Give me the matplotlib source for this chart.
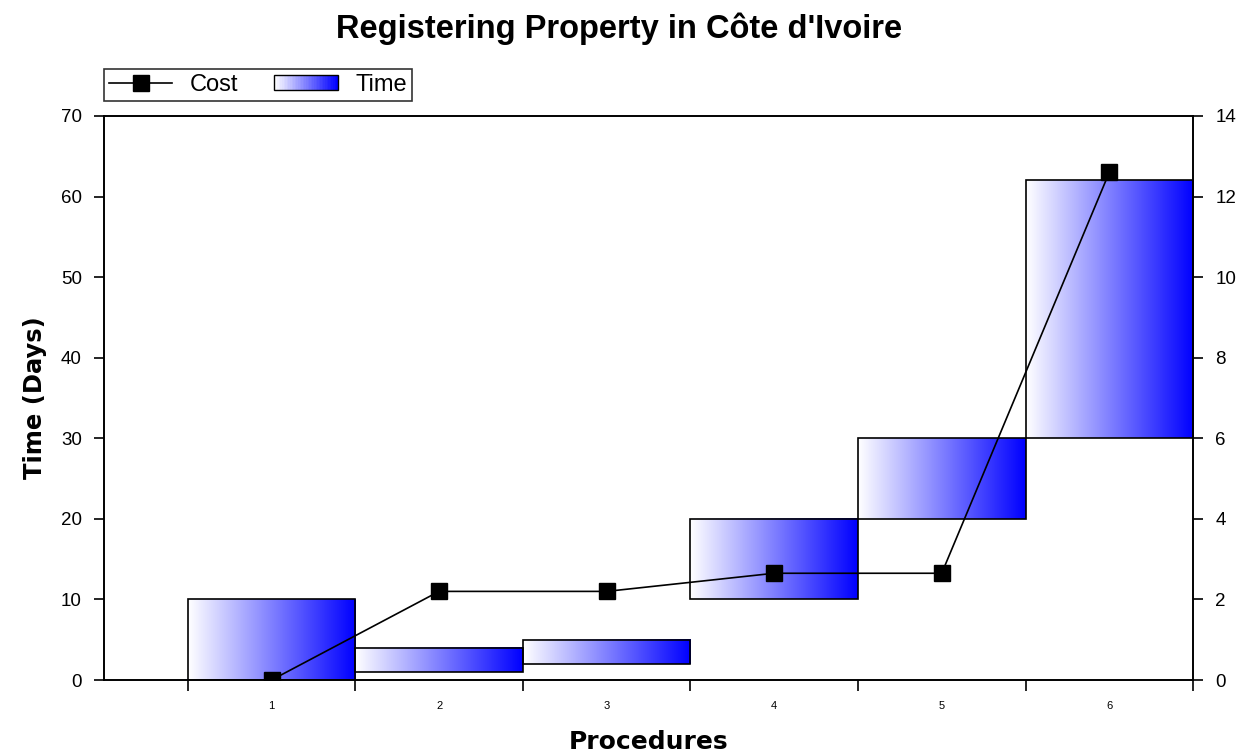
# -*- coding:utf-8 -*-

import numpy as np
import matplotlib
matplotlib.use("Agg")
import matplotlib.pyplot as plt
from matplotlib.colors import LinearSegmentedColormap
from matplotlib.legend_handler import HandlerBase
from matplotlib.lines import Line2D
from matplotlib.patches import Rectangle

# Données
procedures = [1, 2, 3, 4, 5, 6]
time_start = [0, 1, 2, 10, 20, 30]
time_end = [10, 4, 5, 20, 30, 62]
cost = [0, 2.2, 2.2, 2.65, 2.65, 12.6]

plt.rcParams["font.family"] = ["Liberation Sans", "DejaVu Sans"]

blues = LinearSegmentedColormap.from_list("wb", ["#ffffff", "#0000ff"])
gradient = np.linspace(0, 1, 256).reshape(1, -1)


class GradientHandler(HandlerBase):
    """Rectangle en dégradé pour la légende."""

    def create_artists(self, legend, orig_handle, xdescent, ydescent,
                       width, height, fontsize, trans):
        artists = []
        n = 40
        for i in range(n):
            r = Rectangle((-xdescent + width * i / n, -ydescent), width / n + 0.2, height,
                          facecolor=blues(i / (n - 1)), edgecolor="none", transform=trans)
            artists.append(r)
        artists.append(Rectangle((-xdescent, -ydescent), width, height, facecolor="none",
                                 edgecolor="black", linewidth=1, transform=trans))
        return artists


fig = plt.figure(figsize=(12.38, 7.55), dpi=100)
ax = fig.add_axes([0.084, 0.0993, 0.8797, 0.7471])
ax2 = ax.twinx()

# Barres flottantes en dégradé
for p, y0, y1 in zip(procedures, time_start, time_end):
    ax.imshow(gradient, cmap=blues, aspect="auto", extent=(p - 0.5, p + 0.5, y0, y1),
              interpolation="bilinear", zorder=2)
    ax.add_patch(Rectangle((p - 0.5, y0), 1, y1 - y0, facecolor="none",
                           edgecolor="black", linewidth=1.2, zorder=3))

# Courbe du coût
ax2.plot(procedures, cost, color="black", linewidth=1.2, marker="s",
         markersize=12, markerfacecolor="black", zorder=4)

ax.set_xlim(0, 6.5)
ax.set_ylim(0, 70)
ax2.set_ylim(0, 14)

ax.set_xticks(np.arange(0.5, 7, 1))
ax.set_xticklabels([])
ax.set_xticks(procedures, minor=True)
ax.set_xticklabels([str(p) for p in procedures], minor=True, fontsize=8)
ax.tick_params(axis="x", which="major", length=8, width=1.2)
ax.tick_params(axis="x", which="minor", length=0, pad=15)

ax.set_yticks(np.arange(0, 71, 10))
ax2.set_yticks(np.arange(0, 15, 2))
ax.tick_params(axis="y", labelsize=13.5, length=7, width=1.2, pad=9)
ax2.tick_params(axis="y", labelsize=13.5, length=7, width=1.2, pad=9)

for a in (ax, ax2):
    for s in a.spines.values():
        s.set_linewidth(1.2)

ax.set_ylabel("Time (Days)", fontsize=17.5, fontweight="bold", family="DejaVu Sans",
              labelpad=10)
ax.set_xlabel("Procedures", fontsize=18, fontweight="bold", family="DejaVu Sans",
              labelpad=14)
fig.suptitle("Registering Property in Côte d'Ivoire", fontsize=23.5, fontweight="bold",
             y=0.984, va="top")

# Légende
cost_handle = Line2D([], [], color="black", marker="s", markersize=12, linewidth=1.2)
time_handle = Rectangle((0, 0), 1, 1)
leg = ax.legend([cost_handle, time_handle], ["Cost", "Time"],
                handler_map={Rectangle: GradientHandler()},
                loc="lower left", bbox_to_anchor=(0.0, 1.027), ncol=2, fontsize=17,
                frameon=True, fancybox=False, edgecolor="black", borderpad=0.2,
                handlelength=2.7, handleheight=0.6, columnspacing=1.5, handletextpad=0.75,
                borderaxespad=0)
leg.get_frame().set_linewidth(1.2)

fig.savefig("out.png", dpi=100)
